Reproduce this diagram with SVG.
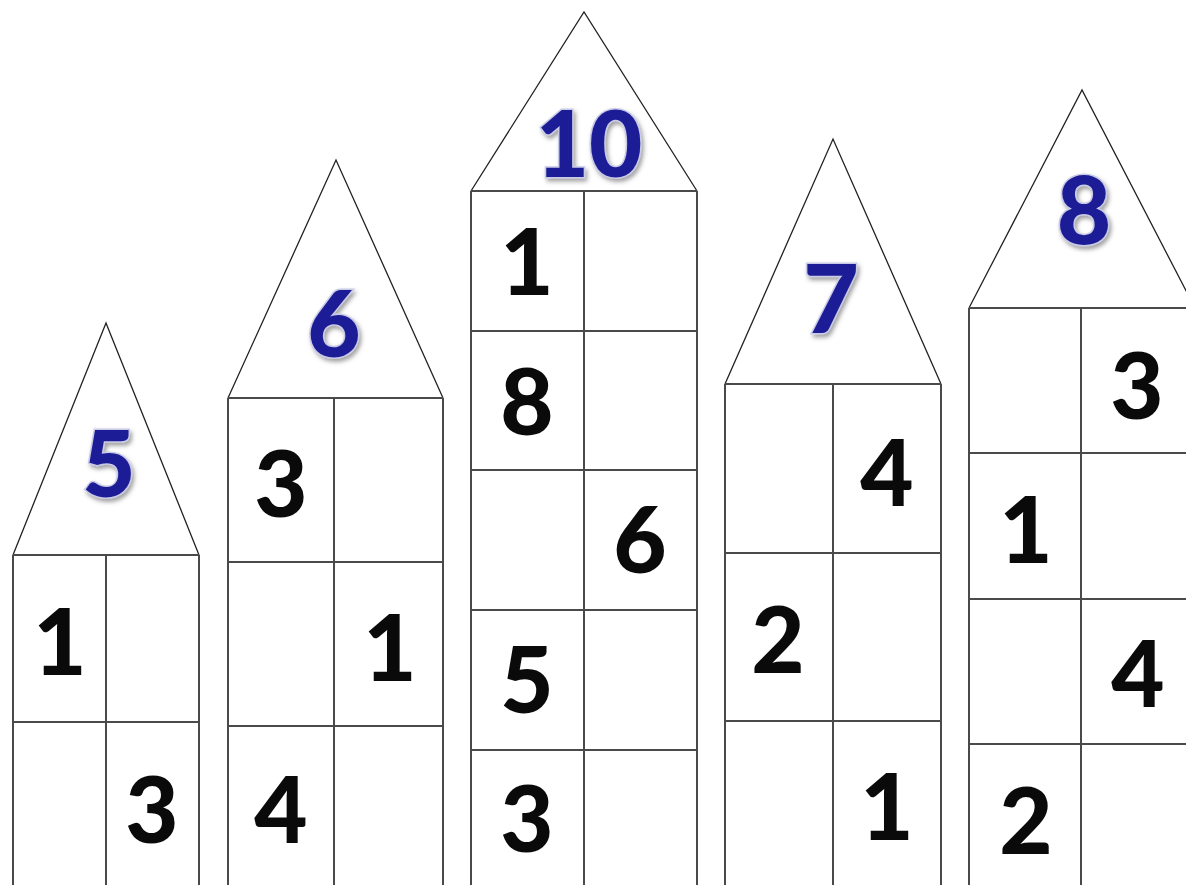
<svg xmlns="http://www.w3.org/2000/svg" width="1186" height="885" viewBox="0 0 1186 885">
<defs>
<style>
.roof{fill:none;stroke:#222;stroke-width:1.3;stroke-linejoin:miter}
.wall{fill:none;stroke:#4a4a4a;stroke-width:2}
.d{font-family:Lato,"DejaVu Sans",sans-serif;font-weight:900;font-size:92px;fill:#0a0a0a;text-anchor:middle}
.t{font-family:Lato,"DejaVu Sans",sans-serif;font-weight:900;font-size:92px;fill:#1c1c96;stroke:#c9cbe6;stroke-width:3;paint-order:stroke;text-anchor:middle;filter:url(#sh)}
</style>
<filter id="sh" x="-20%" y="-20%" width="150%" height="150%">
<feDropShadow dx="2" dy="3" stdDeviation="2" flood-color="#555" flood-opacity="0.55"/>
</filter>
</defs>
<rect width="1186" height="885" fill="#fff"/>

<g id="house-5">
<path class="roof" d="M13 555 L106 323 L199 555"/>
<path class="wall" d="M13 555 H199 M13 555 V885 M199 555 V885 M106 555 V885 M13 722 H199"/>
<text class="t" x="109" y="497">5</text>
<text class="d" x="60" y="675">1</text>
<text class="d" x="152" y="843">3</text>
</g>

<g id="house-6">
<path class="roof" d="M228 398 L336 160 L443 398"/>
<path class="wall" d="M228 398 H443 M228 398 V885 M443 398 V885 M334 398 V885 M228 562 H443 M228 726 H443"/>
<text class="t" x="334" y="357">6</text>
<text class="d" x="281" y="517">3</text>
<text class="d" x="390" y="681">1</text>
<text class="d" x="281" y="843">4</text>
</g>

<g id="house-10">
<path class="roof" d="M471 191 L584 12 L697 191"/>
<path class="wall" d="M471 191 H697 M471 191 V885 M697 191 V885 M584 191 V885 M471 331 H697 M471 470 H697 M471 610 H697 M471 750 H697"/>
<text class="t" x="589" y="177">10</text>
<text class="d" x="527" y="295">1</text>
<text class="d" x="527" y="435">8</text>
<text class="d" x="640" y="573">6</text>
<text class="d" x="527" y="713">5</text>
<text class="d" x="527" y="852">3</text>
</g>

<g id="house-7">
<path class="roof" d="M725 384 L833 139 L941 384"/>
<path class="wall" d="M725 384 H941 M725 384 V885 M941 384 V885 M833 384 V885 M725 553 H941 M725 721 H941"/>
<text class="t" x="831" y="333" style="font-size:96px">7</text>
<text class="d" x="887" y="506">4</text>
<text class="d" x="778" y="673">2</text>
<text class="d" x="887" y="840">1</text>
</g>

<g id="house-8">
<path class="roof" d="M969 308 L1082 90 L1195 308"/>
<path class="wall" d="M969 308 H1195 M969 308 V885 M1081 308 V885 M969 453 H1195 M969 599 H1195 M969 744 H1195"/>
<text class="t" x="1084" y="244" style="font-size:94px">8</text>
<text class="d" x="1137" y="419">3</text>
<text class="d" x="1026" y="563">1</text>
<text class="d" x="1138" y="707">4</text>
<text class="d" x="1026" y="854">2</text>
</g>
</svg>
